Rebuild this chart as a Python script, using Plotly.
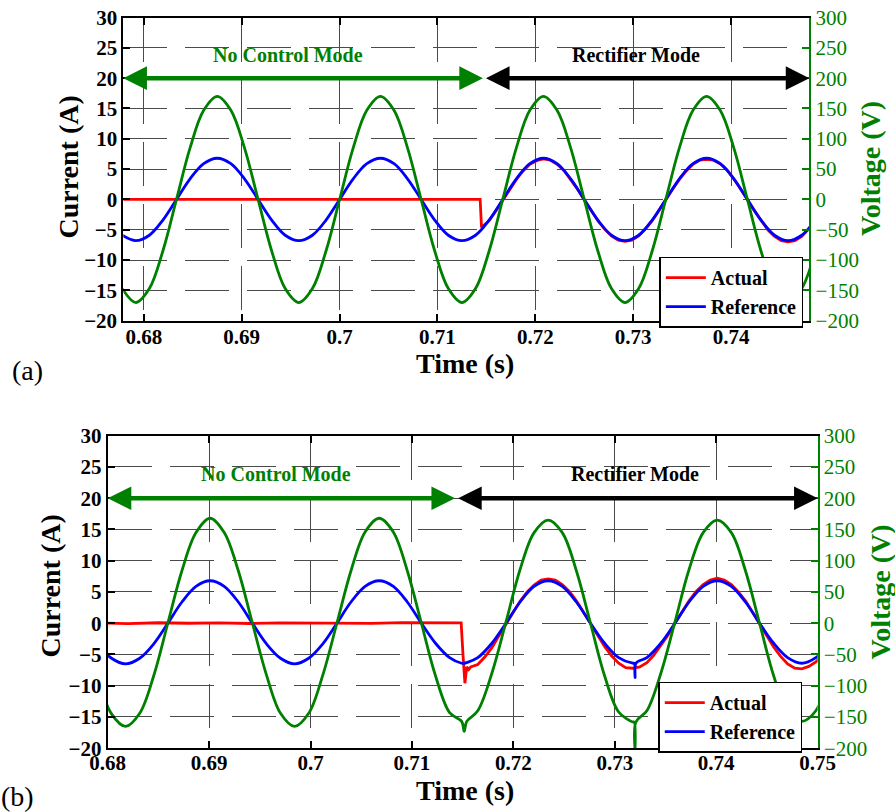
import plotly.graph_objects as go

# ---------------- (a) simulation ----------------
# time samples for the smooth waveforms (s)
T_A = [0.67778, 0.67917, 0.68056, 0.68194, 0.68333, 0.68472, 0.68611, 0.68750,
       0.68889, 0.69028, 0.69167, 0.69306, 0.69444, 0.69583, 0.69722, 0.69861,
       0.70000, 0.70139, 0.70278, 0.70417, 0.70556, 0.70694, 0.70833, 0.70972,
       0.71111, 0.71250, 0.71389, 0.71528, 0.71667, 0.71806, 0.71944, 0.72083,
       0.72222, 0.72361, 0.72500, 0.72639, 0.72778, 0.72917, 0.73056, 0.73194,
       0.73333, 0.73472, 0.73611, 0.73750, 0.73889, 0.74028, 0.74167, 0.74306,
       0.74444, 0.74583, 0.74722, 0.74861]
# grid voltage (V)
V_A = [-147, -170, -147, -85, 0, 85, 147, 170, 147, 85, 0, -85, -147, -170, -147, -85,
       0, 85, 147, 170, 147, 85, 0, -85, -147, -170, -147, -85,
       0, 85, 147, 170, 147, 85, 0, -85, -147, -170, -147, -85,
       0, 85, 147, 170, 147, 85, 0, -85, -147, -170, -147, -85]
# reference current (A)
I_REF_A = [-5.9, -6.8, -5.9, -3.4, 0, 3.4, 5.9, 6.8, 5.9, 3.4, 0, -3.4, -5.9, -6.8, -5.9, -3.4,
           0, 3.4, 5.9, 6.8, 5.9, 3.4, 0, -3.4, -5.9, -6.8, -5.9, -3.4,
           0, 3.4, 5.9, 6.8, 5.9, 3.4, 0, -3.4, -5.9, -6.8, -5.9, -3.4,
           0, 3.4, 5.9, 6.8, 5.9, 3.4, 0, -3.4, -5.9, -6.8, -5.9, -3.4]
# actual current (A)
T_ACT_A = [0.67778, 0.71436, 0.71450,
           0.71528, 0.71597, 0.71667, 0.71736, 0.71806, 0.71875, 0.71944, 0.72014,
           0.72083, 0.72153, 0.72222, 0.72292, 0.72361, 0.72431, 0.72500, 0.72569,
           0.72639, 0.72708, 0.72778, 0.72847, 0.72917, 0.72986, 0.73056, 0.73125,
           0.73194, 0.73264, 0.73333, 0.73403, 0.73472, 0.73542, 0.73611, 0.73681,
           0.73750, 0.73819, 0.73889, 0.73958, 0.74028, 0.74097, 0.74167, 0.74236,
           0.74306, 0.74375, 0.74444, 0.74514, 0.74583, 0.74653, 0.74722, 0.74792,
           0.74861]
I_ACT_A = [0, 0, -4.6,
           -3.5, -1.9, -0.1, 1.6, 3.3, 4.7, 5.8, 6.4,
           6.7, 6.5, 5.8, 4.8, 3.3, 1.7, -0.1, -1.9,
           -3.5, -4.9, -6.0, -6.7, -6.9, -6.7, -6.0, -4.9,
           -3.5, -1.8, 0.0, 1.7, 3.3, 4.7, 5.8, 6.5,
           6.6, 6.5, 5.9, 4.9, 3.4, 1.8, 0.0, -1.8,
           -3.5, -5.0, -6.1, -6.8, -7.0, -6.8, -6.1, -4.9,
           -3.5]

# ---------------- (b) experiment ----------------
T_B = [0.67899, 0.68038, 0.68177, 0.68316, 0.68454, 0.68593, 0.68732, 0.68871,
       0.69010, 0.69149, 0.69288, 0.69427, 0.69566, 0.69704, 0.69843, 0.69982,
       0.70121, 0.70260, 0.70399, 0.70538, 0.70677, 0.70816, 0.70954, 0.71093,
       0.71232, 0.71371, 0.71490, 0.71515, 0.71540, 0.71649, 0.71788, 0.71927,
       0.72066, 0.72204, 0.72343, 0.72482, 0.72621, 0.72760, 0.72899, 0.73038,
       0.73177, 0.73192, 0.73200, 0.73208, 0.73316, 0.73454, 0.73593, 0.73732,
       0.73871, 0.74010, 0.74149, 0.74288, 0.74427, 0.74566, 0.74704, 0.74843,
       0.74982, 0.75121]
V_B = [-83, -145, -165, -144, -84, 0, 84, 145, 168, 145, 84, 0, -83, -144, -165, -144,
       -83, 0, 84, 146, 168, 146, 84, 0, -84, -143, -157, -173, -157, -140, -80, 2,
       86, 145, 165, 145, 84, 0, -84, -142, -158, -158, -206, -158, -140, -80, 2, 86,
       145, 165, 145, 84, 0, -84, -142, -157, -140, -80]
I_REF_B = [-3.3, -5.6, -6.5, -5.6, -3.3, 0, 3.4, 5.9, 6.8, 5.9, 3.4, 0, -3.3, -5.6, -6.5, -5.6,
           -3.3, 0, 3.4, 5.9, 6.8, 5.9, 3.4, 0, -3.2, -5.5, -6.4, -6.4, -6.3, -5.5, -3.2, 0,
           3.4, 5.9, 6.8, 5.9, 3.4, 0, -3.2, -5.5, -6.4, -6.4, -8.7, -6.4, -5.5, -3.2, 0, 3.4,
           5.9, 6.8, 5.9, 3.4, 0, -3.2, -5.5, -6.4, -5.5, -3.2]
T_ACT_B = [0.67899, 0.68200, 0.68500, 0.68800, 0.69100, 0.69400, 0.69700, 0.70000,
           0.70300, 0.70600, 0.70900, 0.71200, 0.71485, 0.71505, 0.71522, 0.71540,
           0.71560,
           0.71579, 0.71649, 0.71718, 0.71788, 0.71857, 0.71927, 0.71996, 0.72066,
           0.72135, 0.72204, 0.72274, 0.72343, 0.72413, 0.72482, 0.72552, 0.72621,
           0.72691, 0.72760, 0.72829, 0.72899, 0.72968, 0.73038, 0.73107, 0.73177,
           0.73246, 0.73316, 0.73385, 0.73454, 0.73524, 0.73593, 0.73663, 0.73732,
           0.73802, 0.73871, 0.73941, 0.74010, 0.74079, 0.74149, 0.74218, 0.74288,
           0.74357, 0.74427, 0.74496, 0.74566, 0.74635, 0.74704, 0.74774, 0.74843,
           0.74913, 0.74982, 0.75052]
I_ACT_B = [0.05, -0.05, 0.08, 0.0, 0.06, -0.04, 0.07, 0.0,
           0.05, -0.03, 0.10, 0.02, 0.05, -5.5, -9.6, -7.0,
           -7.4,
           -7.0, -6.6, -5.4, -3.9, -2.0, -0.2, 1.7, 3.5,
           5.0, 6.1, 6.9, 7.1, 6.9, 6.2, 5.1, 3.6,
           1.8, 0.0, -1.9, -3.7, -5.2, -6.4, -7.1, -7.2,
           -7.0, -6.3, -5.1, -3.6, -1.9, 0.0, 1.8, 3.6,
           5.1, 6.2, 6.9, 7.2, 6.9, 6.2, 5.0, 3.6,
           1.8, -0.1, -1.9, -3.8, -5.3, -6.5, -7.2, -7.3,
           -6.9, -6.2, -5.0]

# axis ticks
TICKS_X_A = [0.68, 0.69, 0.70, 0.71, 0.72, 0.73, 0.74]
TICKTEXT_X_A = ["0.68", "0.69", "0.7", "0.71", "0.72", "0.73", "0.74"]
TICKS_X_B = [0.68, 0.69, 0.70, 0.71, 0.72, 0.73, 0.74, 0.75]
TICKTEXT_X_B = ["0.68", "0.69", "0.7", "0.71", "0.72", "0.73", "0.74", "0.75"]

FONT = "Liberation Serif"
GREEN = "#008000"
LW = 2.8

fig = go.Figure()

# panel (a)
fig.add_trace(go.Scatter(x=T_ACT_A, y=I_ACT_A, mode="lines", name="Actual",
                         line=dict(color="#ff0000", width=LW),
                         xaxis="x", yaxis="y", legend="legend"))
fig.add_trace(go.Scatter(x=T_A, y=I_REF_A, mode="lines", name="Reference",
                         line=dict(color="#0000ff", width=LW, shape="spline"),
                         xaxis="x", yaxis="y", legend="legend"))
fig.add_trace(go.Scatter(x=T_A, y=V_A, mode="lines", name="Voltage", showlegend=False,
                         line=dict(color=GREEN, width=LW, shape="spline"),
                         xaxis="x", yaxis="y2"))

# panel (b)
fig.add_trace(go.Scatter(x=T_ACT_B, y=I_ACT_B, mode="lines", name="Actual",
                         line=dict(color="#ff0000", width=LW),
                         xaxis="x2", yaxis="y3", legend="legend2"))
fig.add_trace(go.Scatter(x=T_B, y=I_REF_B, mode="lines", name="Reference",
                         line=dict(color="#0000ff", width=LW, shape="spline"),
                         xaxis="x2", yaxis="y3", legend="legend2"))
fig.add_trace(go.Scatter(x=T_B, y=V_B, mode="lines", name="Voltage", showlegend=False,
                         line=dict(color=GREEN, width=LW, shape="spline"),
                         xaxis="x2", yaxis="y4"))

bold20 = dict(family=FONT, size=20, color="black", weight="bold")
bold21 = dict(family=FONT, size=21, color="black", weight="bold")
grid_style = dict(showgrid=True, gridcolor="#4a4a4a", gridwidth=1, griddash="44px,18px",
                  zeroline=False, showline=True, linecolor="black", linewidth=2,
                  ticks="inside", ticklen=7, tickwidth=1.5, tickcolor="black",
                  tickfont=bold21, automargin=False)
right_style = dict(showgrid=False, zeroline=False, showline=True, linecolor=GREEN,
                   linewidth=2, ticks="inside", ticklen=7, tickwidth=1.5, tickcolor=GREEN,
                   tickfont=dict(family=FONT, size=21, color=GREEN),
                   range=[-200, 300], tick0=-200, dtick=50, side="right",
                   automargin=False)

fig.update_layout(
    template="none",
    width=895, height=812,
    margin=dict(l=0, r=0, t=0, b=0, pad=0),
    paper_bgcolor="white", plot_bgcolor="white",
    xaxis=dict(domain=[0.1378, 0.9043], anchor="y", range=[0.6779, 0.7480],
               tickvals=TICKS_X_A, ticktext=TICKTEXT_X_A, mirror="ticks",
               ticklabelstandoff=-4, **grid_style),
    yaxis=dict(domain=[0.6050, 0.9784], anchor="x", range=[-20, 30], tick0=-20, dtick=5,
               **grid_style),
    yaxis2=dict(overlaying="y", anchor="x", **right_style),
    xaxis2=dict(domain=[0.1203, 0.9136], anchor="y3", range=[0.68, 0.75],
                tickvals=TICKS_X_B, ticktext=TICKTEXT_X_B, mirror="ticks",
                ticklabelstandoff=-5, **grid_style),
    yaxis3=dict(domain=[0.0785, 0.4634], anchor="x2", range=[-20, 30], tick0=-20, dtick=5,
                **grid_style),
    yaxis4=dict(overlaying="y3", anchor="x2", **right_style),
    legend=dict(x=0.8976, y=0.6839, xanchor="right", yanchor="top",
                bgcolor="white", bordercolor="black", borderwidth=1.5,
                font=bold20, itemwidth=40, tracegroupgap=0),
    legend2=dict(x=0.8964, y=0.1605, xanchor="right", yanchor="top",
                 bgcolor="white", bordercolor="black", borderwidth=1.5,
                 font=bold20, itemwidth=40, tracegroupgap=0),
    showlegend=True,
)

annotations = []


def mode_arrow(xref, yref, x_tip, x_tail, color):
    return dict(xref=xref, yref=yref, axref=xref, ayref=yref,
                x=x_tip, y=20, ax=x_tail, ay=20, text="", showarrow=True,
                arrowside="end+start", arrowhead=2, startarrowhead=2,
                arrowsize=1.05, startarrowsize=1.05, arrowwidth=4.5, arrowcolor=color,
                standoff=0, startstandoff=0)


def label(xref, yref, x, y, text, font, angle=0):
    return dict(xref=xref, yref=yref, x=x, y=y, text=text, showarrow=False,
                xanchor="center", yanchor="middle", textangle=angle, font=font)


green_bold20 = dict(family=FONT, size=20, color=GREEN, weight="bold")

# operating-mode arrows and labels
annotations += [
    mode_arrow("x", "y", 0.6779, 0.7148, GREEN),
    mode_arrow("x", "y", 0.7480, 0.7148, "black"),
    mode_arrow("x2", "y3", 0.6800, 0.7144, GREEN),
    mode_arrow("x2", "y3", 0.7500, 0.7144, "black"),
    label("x", "y", 0.69475, 23.9, "No Control Mode", green_bold20),
    label("x", "y", 0.73028, 23.9, "Rectifier Mode", bold20),
    label("x2", "y3", 0.69658, 23.8, "No Control Mode", green_bold20),
    label("x2", "y3", 0.7320, 23.8, "Rectifier Mode", bold20),
]

title_font = dict(family=FONT, size=28, color="black", weight="bold")
title_green = dict(family=FONT, size=28, color=GREEN, weight="bold")
panel_font = dict(family=FONT, size=28, color="black")
annotations += [
    label("paper", "paper", 0.076, 0.7937, "Current (A)", title_font, -90),
    label("paper", "paper", 0.972, 0.7931, "Voltage (V)", title_green, -90),
    label("paper", "paper", 0.5196, 0.5520, "Time (s)", title_font),
    label("paper", "paper", 0.0559, 0.2777, "Current (A)", title_font, -90),
    label("paper", "paper", 0.984, 0.2713, "Voltage (V)", title_green, -90),
    label("paper", "paper", 0.5196, 0.0270, "Time (s)", title_font),
    label("paper", "paper", 0.0302, 0.5443, "(a)", panel_font),
    label("paper", "paper", 0.019, 0.0185, "(b)", panel_font),
]

fig.update_layout(annotations=annotations)

fig.write_html("out.html")
